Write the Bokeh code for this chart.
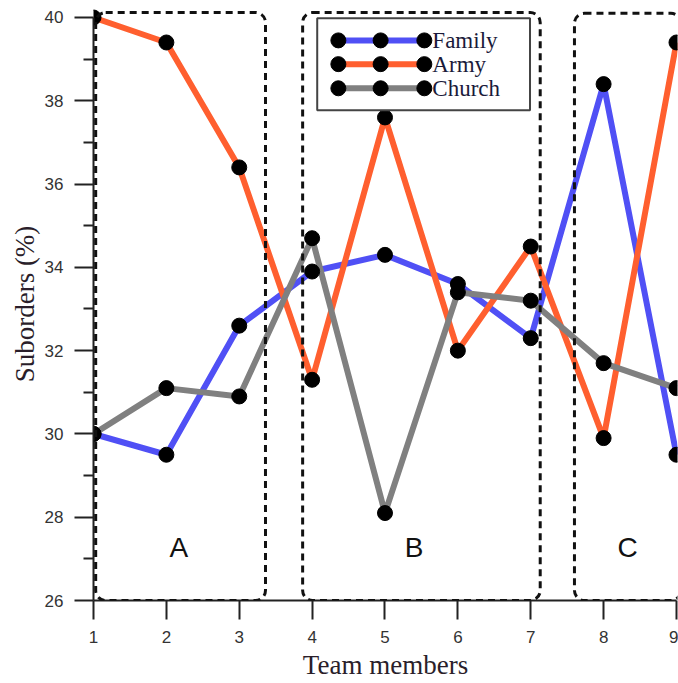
from bokeh.plotting import figure
from bokeh.models import Range1d, BoxAnnotation, FixedTicker
from bokeh.core.properties import value
from bokeh.embed import file_html
from bokeh.resources import INLINE

members = [1, 2, 3, 4, 5, 6, 7, 8, 9]
family = [30.0, 29.5, 32.6, 33.9, 34.3, 33.6, 32.3, 38.4, 29.5]
army = [40.0, 39.4, 36.4, 31.3, 37.6, 32.0, 34.5, 29.9, 39.4]
church = [30.0, 31.1, 30.9, 34.7, 28.1, 33.4, 33.2, 31.7, 31.1]
series_names = ["Family", "Army", "Church"]
series_colors = ["#5050F5", "#FF5F2F", "#808080"]
group_labels = ["A", "B", "C"]
group_label_x = [2.17, 5.4, 8.33]
y_ticks = [26, 28, 30, 32, 34, 36, 38, 40]

p = figure(width=678, height=683, output_backend="svg", toolbar_location=None,
           x_range=Range1d(1, 9.014), y_range=Range1d(26, 40.24),
           min_border_left=93, min_border_right=1, min_border_top=7,
           min_border_bottom=83)
p.outline_line_color = None
p.grid.visible = False
p.background_fill_color = "white"

# axes
p.xaxis.ticker = FixedTicker(ticks=members)
p.yaxis.ticker = FixedTicker(ticks=y_ticks, minor_ticks=[27, 29, 31, 33, 35, 37, 39])
p.xaxis.bounds = (1, 9)
p.yaxis.bounds = (26, 40)
for ax in (p.xaxis, p.yaxis):
    ax.axis_line_color = "#222222"
    ax.axis_line_width = 2
    ax.major_tick_line_color = "#222222"
    ax.major_tick_line_width = 2
    ax.minor_tick_line_color = "#222222"
    ax.minor_tick_line_width = 2
    ax.major_tick_in = 0
    ax.major_tick_out = 19
    ax.minor_tick_in = 0
    ax.minor_tick_out = 10
    ax.major_label_text_font = "Liberation Sans"
    ax.major_label_text_font_size = "17px"
    ax.major_label_text_color = "#333333"
    ax.axis_label_text_font = "Liberation Serif"
    ax.axis_label_text_font_size = "27px"
    ax.axis_label_text_font_style = "normal"
    ax.axis_label_text_color = "#2a1e2a"
p.xaxis.minor_tick_out = 0
p.xaxis.axis_label = "Team members"
p.yaxis.axis_label = "Suborders (%)"
p.xaxis.major_label_standoff = 11
p.yaxis.major_label_standoff = 11
p.xaxis.axis_label_standoff = 4
p.yaxis.axis_label_standoff = 2

# dashed group boxes
boxes = [(1.03, 3.36, 40.12), (3.87, 7.13, 40.12), (7.6, 9.06, 40.1)]
for l, r, t in boxes:
    p.add_layout(BoxAnnotation(left=l, right=r, top=t, bottom=26.0,
                               fill_alpha=0, line_color="#111111", line_alpha=1,
                               line_width=3, line_dash="7 5",
                               border_radius=10))

p.text(x=group_label_x, y=[27.27] * 3, text=group_labels,
       text_font=value("Liberation Sans"), text_font_size="28px",
       text_align="center", text_baseline="middle", text_color="#111111")

# lines
all_series = [family, army, church]
for vals, c in zip(all_series, series_colors):
    p.line(members, vals, line_color=c, line_width=6)
for vals in all_series:
    p.scatter(members, vals, size=15, fill_color="black", line_color="black")

# manual legend
p.quad(left=[4.07], right=[6.99], top=[39.98], bottom=[37.77],
       fill_color="white", line_color="#444444", line_width=2, level="overlay")
leg_y = [39.45, 38.88, 38.3]
leg_mx = [4.36, 4.94, 5.54]
for yy, c, name in zip(leg_y, series_colors, series_names):
    p.line(leg_mx, [yy] * 3, line_color=c, line_width=6, level="overlay")
    p.scatter(leg_mx, [yy] * 3, size=15, fill_color="black", line_color="black", level="overlay")
    p.text(x=[5.65], y=[yy], text=[name], text_font=value("Liberation Serif"),
           text_font_size="23px", text_baseline="middle", text_align="left",
           text_color="#1a1a3a", level="overlay")

open("out.html", "w").write(file_html(p, INLINE))
